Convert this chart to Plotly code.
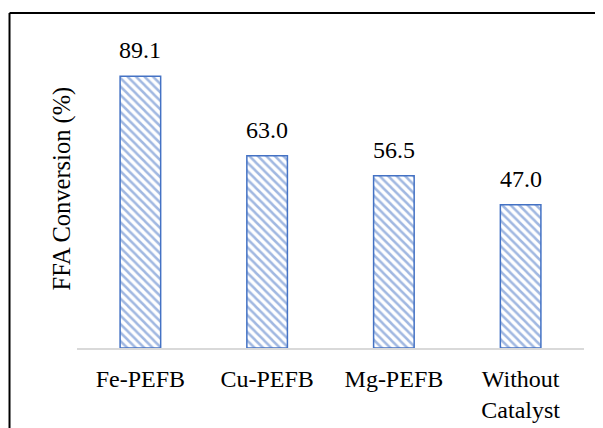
import plotly.graph_objects as go

categories = ["Fe-PEFB", "Cu-PEFB", "Mg-PEFB", "Without<br>Catalyst"]
values = [89.1, 63.0, 56.5, 47.0]
labels = ["89.1", "63.0", "56.5", "47.0"]

FONT = "Liberation Serif"
BLUE = "#4472C4"

fig = go.Figure()
fig.add_trace(go.Bar(
    x=categories, y=values, width=0.32,
    marker=dict(color="white", line=dict(color=BLUE, width=1.5),
                pattern=dict(shape="\\", fgcolor=BLUE, bgcolor="white", size=6, solidity=0.42)),
    hoverinfo="skip",
))
for c, v, t in zip(categories, values, labels):
    fig.add_annotation(x=c, y=v, text=t, showarrow=False, yanchor="bottom", yshift=11,
                       font=dict(family=FONT, size=24, color="black"))

fig.add_annotation(xref="paper", yref="paper", x=-0.0296, y=0.523, text="FFA Conversion (%)",
                   textangle=-90, showarrow=False, xanchor="center", yanchor="middle",
                   font=dict(family=FONT, size=24.5, color="black"))

# outer frame (partially visible)
fig.add_shape(type="line", xref="paper", yref="paper", x0=-0.1331, x1=1.1, y0=1.0984, y1=1.0984,
              line=dict(color="black", width=2))
fig.add_shape(type="line", xref="paper", yref="paper", x0=-0.1331, x1=-0.1331, y0=1.0984, y1=-0.3,
              line=dict(color="black", width=2))

fig.update_layout(
    width=595, height=420,
    margin=dict(l=69, r=19, t=35, b=80, autoexpand=False),
    paper_bgcolor="white", plot_bgcolor="white",
    showlegend=False,
    font=dict(family=FONT, size=24, color="black"),
    xaxis=dict(showline=True, linecolor="#D9D9D9", linewidth=1.5, ticks="", showgrid=False,
               automargin=False,
               tickfont=dict(family=FONT, size=24, color="black"), ticklabelstandoff=8),
    yaxis=dict(range=[0, 100], visible=False),
    bargap=0.68,
)
fig.write_html("out.html")
